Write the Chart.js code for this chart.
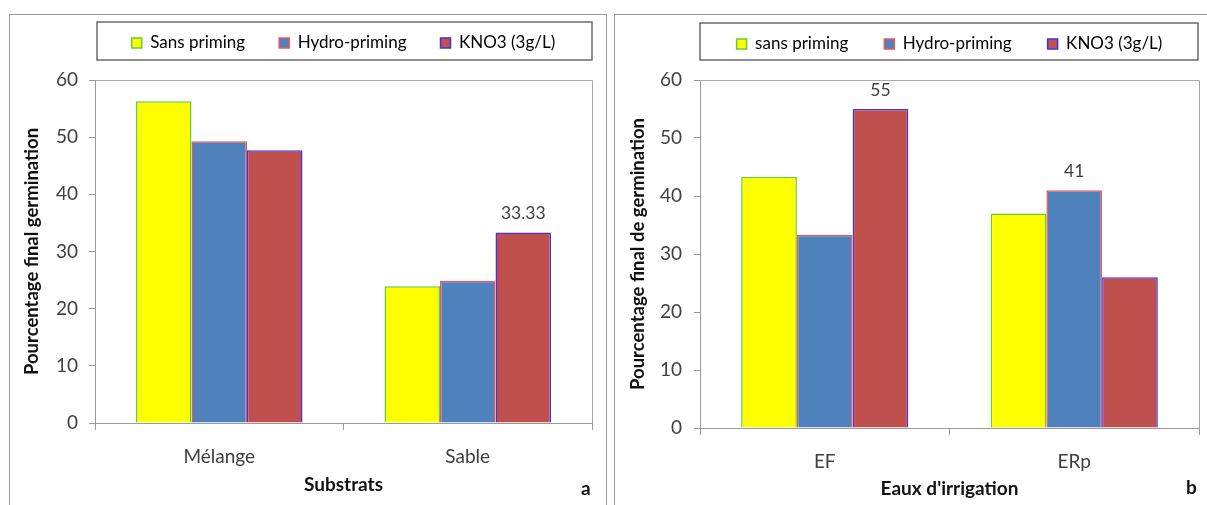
<!DOCTYPE html>
<html>
<head>
<meta charset="utf-8">
<script src="https://cdn.jsdelivr.net/npm/chart.js@4/dist/chart.umd.min.js"></script>
<style>
  html, body { margin: 0; padding: 0; background: #fff; }
  body { width: 1207px; height: 505px; position: relative; overflow: hidden; font-family: Lato, "Liberation Sans", sans-serif; }
  .panel { position: absolute; border-left: 1px solid #9a9a9a; border-top: 1px solid #9a9a9a; border-right: 1px solid #9a9a9a; }
  #panelA { left: 9px; top: 14px; width: 596px; height: 500px; }
  #panelB { left: 614px; top: 14px; width: 600px; height: 500px; }
  .cv { position: absolute; }
  #wrapA { left: 9px; top: 14px; width: 597px; height: 491px; }
  #wrapB { left: 614px; top: 14px; width: 593px; height: 491px; }
  .tag { position: absolute; font-weight: bold; font-size: 19px; color: #111; font-family: Lato, "Liberation Sans", sans-serif; }
</style>
</head>
<body>
<div class="panel" id="panelA"></div>
<div class="panel" id="panelB"></div>
<div class="cv" id="wrapA"><canvas id="chartA" width="597" height="491"></canvas></div>
<div class="cv" id="wrapB"><canvas id="chartB" width="593" height="491"></canvas></div>
<div class="tag" style="left:581px; top:476px;">a</div>
<div class="tag" style="left:1186px; top:475px;">b</div>
<script>
// ---------- data ----------
const categoriesA = ['Mélange', 'Sable'];
const sansA  = [56.3, 23.9];
const hydroA = [49.3, 24.9];
const kno3A  = [47.7, 33.33];
const valueLabelsA = [[null, null], [null, null], [null, '33.33']]; // per series

const categoriesB = ['EF', 'ERp'];
const sansB  = [43.3, 37.0];
const hydroB = [33.3, 41];
const kno3B  = [55, 26.0];
const valueLabelsB = [[null, null], [null, '41'], ['55', null]];

const seriesNamesA = ['Sans priming', 'Hydro-priming', 'KNO3 (3g/L)'];
const seriesNamesB = ['sans priming', 'Hydro-priming', 'KNO3 (3g/L)'];
const yTicks = [0, 10, 20, 30, 40, 50, 60];

// ---------- styles ----------
const FILL = ['#ffff00', '#4f81bd', '#c0504d'];
const EDGE = ['#66cc33', '#ee5555', '#4433dd'];
const FONT = 'Lato, "Liberation Sans", sans-serif';

function makeDatasets(names, arrs) {
  return arrs.map((d, i) => ({
    label: names[i],
    data: d,
    backgroundColor: FILL[i],
    borderColor: EDGE[i],
    borderWidth: 1.5,
    borderSkipped: 'bottom',
    categoryPercentage: 0.67,
    barPercentage: 1.0
  }));
}

function buildChart(canvasId, cats, names, arrs, valueLabels, cfg) {
  const legendPatch = {
    id: 'legendPatch',
    beforeLayout(chart) {
      const lg = chart.legend;
      if (lg && !lg._patched) {
        const orig = lg.fit.bind(lg);
        lg.fit = function () { orig(); this.height = cfg.legendSpace; };
        lg._patched = true;
      }
    },
    afterLayout(chart) {
      const lg = chart.legend;
      if (lg) {
        const h = lg.height;
        lg.top = cfg.legendShift;
        lg.bottom = lg.top + h;
      }
    },
    afterDraw(chart) {
      const ctx = chart.ctx;
      const a = chart.chartArea;
      ctx.save();
      // plot frame (top & right)
      ctx.strokeStyle = '#a8a8a8';
      ctx.lineWidth = 1;
      ctx.beginPath();
      ctx.moveTo(a.left, a.top + 0.5);
      ctx.lineTo(a.right + 0.5, a.top + 0.5);
      ctx.lineTo(a.right + 0.5, a.bottom);
      ctx.stroke();
      // legend frame
      ctx.strokeStyle = '#555';
      ctx.lineWidth = 1.3;
      ctx.strokeRect(a.left + cfg.legendBox[0], cfg.legendBox[1], a.right - a.left - cfg.legendBox[0] + cfg.legendBox[2], cfg.legendBox[3]);
      // value labels
      ctx.fillStyle = '#404040';
      ctx.font = '17.5px ' + FONT;
      ctx.textAlign = 'center';
      ctx.textBaseline = 'middle';
      valueLabels.forEach((row, di) => {
        const meta = chart.getDatasetMeta(di);
        row.forEach((txt, i) => {
          if (txt == null) return;
          const el = meta.data[i];
          ctx.fillText(txt, el.x, el.y - 19);
        });
      });
      ctx.restore();
    }
  };

  return new Chart(document.getElementById(canvasId), {
    type: 'bar',
    data: { labels: cats, datasets: makeDatasets(names, arrs) },
    options: {
      responsive: false,
      animation: false,
      devicePixelRatio: 1,
      layout: { padding: { left: 0, right: cfg.padRight, top: 0, bottom: 0 } },
      plugins: {
        tooltip: { enabled: false },
        legend: {
          display: true,
          position: 'top',
          fullSize: false,
          labels: {
            boxWidth: 10,
            boxHeight: 10,
            padding: cfg.legendPad,
            color: '#222',
            font: { family: FONT, size: 17 },
            generateLabels(chart) {
              return chart.data.datasets.map((ds, i) => ({
                text: ds.label,
                fillStyle: ds.backgroundColor,
                strokeStyle: ds.borderColor,
                lineWidth: 1.5,
                hidden: false,
                datasetIndex: i
              }));
            }
          }
        }
      },
      scales: {
        x: {
          afterFit(s) { s.height = cfg.xHeight; },
          grid: { display: true, drawOnChartArea: false, drawTicks: true, tickLength: 7, color: '#999', offset: true },
          border: { display: true, color: '#999', width: 1 },
          ticks: { color: '#404040', font: { family: FONT, size: 19 }, padding: 15.5 },
          title: { display: true, text: cfg.xTitle, color: '#111', font: { family: FONT, size: 19, weight: 'bold' }, padding: { top: 0, bottom: cfg.xTitlePad } }
        },
        y: {
          min: 0, max: 60,
          afterFit(s) { s.width = 86; },
          afterBuildTicks(s) { s.ticks = yTicks.map(v => ({ value: v })); },
          grid: { display: true, drawOnChartArea: false, drawTicks: true, tickLength: 6, color: '#999' },
          border: { display: true, color: '#999', width: 1 },
          ticks: { color: '#404040', font: { family: FONT, size: 19 }, padding: cfg.yTickPad },
          title: { display: true, text: cfg.yTitle, color: '#111', font: { family: FONT, size: 18.5, weight: 'bold' }, padding: { top: cfg.yTitlePad, bottom: 0 } }
        }
      }
    },
    plugins: [legendPatch]
  });
}

buildChart('chartA', categoriesA, seriesNamesA, [sansA, hydroA, kno3A], valueLabelsA, {
  padRight: 14, xHeight: 82, xTitle: 'Substrats', xTitlePad: 8.6,
  yTitle: 'Pourcentage final germination', yTitlePad: 12, yTickPad: 11,
  legendSpace: 66, legendShift: -13.5, legendPad: 34, legendBox: [2, 8, 0, 38]
});
buildChart('chartB', categoriesB, seriesNamesB, [sansB, hydroB, kno3B], valueLabelsB, {
  padRight: 8, xHeight: 77, xTitle: "Eaux d'irrigation", xTitlePad: 4.6,
  yTitle: 'Pourcentage final de germination', yTitlePad: 13, yTickPad: 12,
  legendSpace: 66, legendShift: -14.5, legendPad: 36, legendBox: [0, 9, -1, 37]
});
</script>
</body>
</html>
